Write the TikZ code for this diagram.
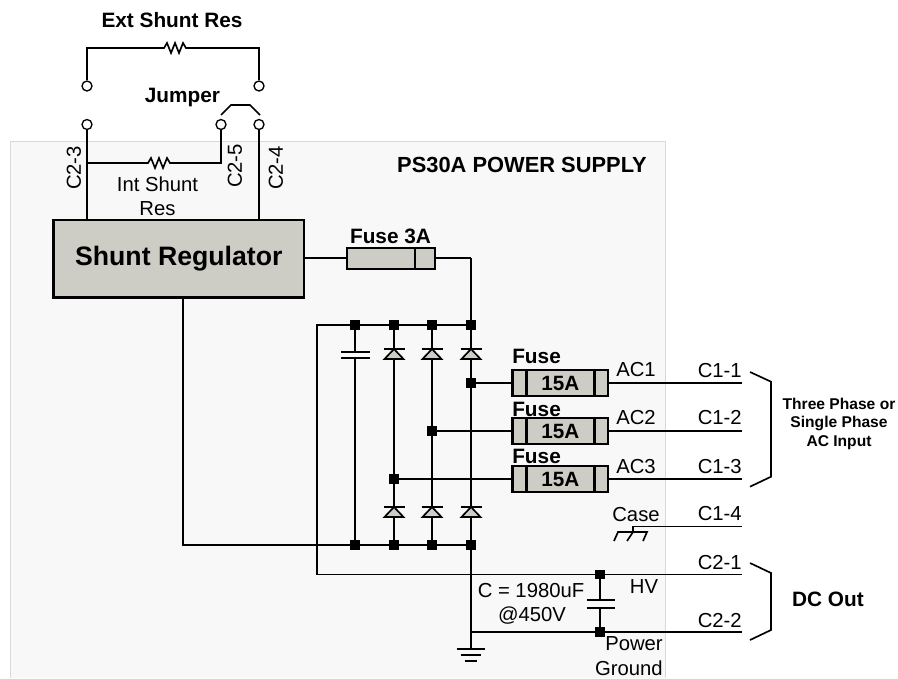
\documentclass[tikz,border=0pt]{standalone}
\usepackage{fontspec}
\setmainfont{Liberation Sans}
\usetikzlibrary{calc}
\definecolor{boxgray}{HTML}{CDCDC5}
\definecolor{panelgray}{HTML}{F8F8F8}
\definecolor{paneledge}{HTML}{D9D9D9}
\tikzset{
  wire/.style={line width=1.25pt},
  lbl/.style={font=\fontsize{15.2}{15.2}\selectfont, inner sep=0pt},
  blbl/.style={font=\fontsize{15.6}{15.6}\selectfont\bfseries, inner sep=0pt},
  smbl/.style={font=\fontsize{11.7}{11.7}\selectfont\bfseries, inner sep=0pt},
  dot/.style={fill=black, draw=none, minimum size=7pt, inner sep=0pt},
  term/.style={circle, draw, line width=1pt, fill=white, minimum size=7.5pt, inner sep=0pt},
}
\def\resistor(#1)(#2){\draw[wire, line join=miter] ($(#1)+(0,0)$) -- ++(3,0) -- ++(3,-5) -- ++(4,10) -- ++(4,-10) -- ++(4,10) -- ++(4,-10) -- ++(3,5) -- (#2);}
\def\diode(#1,#2){\draw[wire, fill=boxgray] (#1-9.5,#2+10) -- (#1+9.5,#2+10) -- (#1,#2) -- cycle;
  \draw[wire] (#1-10.5,#2) -- (#1+10.5,#2);}
\def\fuse(#1,#2)(#3){\node[draw, fill=boxgray, line width=2pt, minimum width=71.5pt, minimum height=19.5pt, inner sep=0pt, font=\fontsize{15.5}{15.5}\selectfont\bfseries] (#3) at (#1,#2) {15A};
  \draw[line width=2pt] (#1-33.5,#2-12) -- (#1-33.5,#2+12);
  \draw[line width=2pt] (#1+34.5,#2-12) -- (#1+34.5,#2+12);}
\begin{document}
\begin{tikzpicture}[x=.75pt, y=-.75pt]
  \useasboundingbox (0,0) rectangle (898,678);
  %%%%% panel %%%%%
  \fill[panelgray] (10,141) rectangle (665.5,678);
  \draw[paneledge] (10,678) -- (10,141) -- (665.5,141) -- (665.5,678);

  %%%%% shunt part %%%%%
  \node[term] (tA) at (87,86) {};
  \node[term] (tB) at (259,86) {};
  \node[term] (tC) at (87,124.5) {};
  \node[term] (tD) at (221,124.5) {};
  \node[term] (tE) at (259,124.5) {};
  \coordinate (extL) at (87,48);
  \coordinate (extR) at (259,48);
  \coordinate (resA) at (161,48);
  \coordinate (resB) at (189,48);
  \coordinate (resC) at (145,163);
  \coordinate (resD) at (173,163);
  \coordinate (intL) at (87,163);
  \coordinate (intR) at (221,163);
  \draw[wire] (tA) -- (extL) -- (resA);
  \resistor(resA)(resB)
  \draw[wire] (resB) -- (extR) -- (tB);
  \draw[wire] (intL) -- (resC);
  \resistor(resC)(resD)
  \draw[wire] (resD) -- (intR) -- (tD);
  \draw[wire] (221,115) -- (231,105) -- (250,105) -- (260,115);

  \node[draw, fill=boxgray, line width=2pt, minimum width=188pt, minimum height=58pt, inner sep=0pt, font=\fontsize{20}{20}\selectfont\bfseries] (reg) at (178.8,258.8) {Shunt Regulator};
  \draw[wire] (tC) -- (tC |- reg.north);
  \draw[wire] (tE) -- (tE |- reg.north);

  \node[blbl] (extlbl) at (172,20) {Ext Shunt Res};
  \node[blbl] (jmp) at (182.5,98) {Jumper};
  \node[lbl, rotate=90] (c23) at (74,168) {C2-3};
  \node[lbl, rotate=90] (c25) at (235,166) {C2-5};
  \node[lbl, rotate=90] (c24) at (276,168) {C2-4};
  \node[lbl] (int1) at (157.5,184) {Int Shunt};
  \node[lbl] (int2) at (157.5,209) {Res};
  \node[blbl, font=\fontsize{16.4}{16.4}\selectfont\bfseries, anchor=east] (ps) at (647,165) {PS30A POWER SUPPLY};

  %%%%% fuse 3A %%%%%
  \node[draw, fill=boxgray, line width=1.5pt, minimum width=66.4pt, minimum height=15.5pt, inner sep=0pt] (f3) at (391,258.3) {};
  \draw[line width=1.5pt] (415,248) -- (415,268.6);
  \node[blbl] (f3lbl) at (390.5,236) {Fuse 3A};
  \coordinate (top) at (471,258.3);
  \draw[wire] (reg.east |- f3) -- (f3);
  \draw[wire] (f3) -- (top);

  %%%%% bridge %%%%%
  \foreach \nm/\px in {a/355,b/394,c/432,d/471}{
    \node[dot] (up\nm) at (\px,325) {};
    \node[dot] (lo\nm) at (\px,545) {};
  }
  \coordinate (busL) at (317,325);
  \coordinate (hvL) at (317,574.5);
  \coordinate (hvR) at (742,574.5);
  \coordinate (pgR) at (742,632);
  \coordinate (gnd) at (471,649);
  \draw[wire] (hvL) -- (busL) -- (upd);
  \draw[wire] (top) -- (gnd);
  \draw[wire] (183,297) -- (183,545) -- (lod);
  \draw[wire] (upb) -- (lob);
  \draw[wire] (upc) -- (loc);
  % capacitor
  \draw[wire] (upa) -- (355,352);
  \draw[wire] (355,358) -- (loa);
  \draw[wire] (341,352) -- (370,352);
  \draw[wire] (341,358) -- (370,358);
  \foreach \px in {394,432,471}{
    \diode(\px,349)
    \diode(\px,507)
  }

  %%%%% AC fuses %%%%%
  \fuse(560.3,383)(fa)
  \fuse(560.3,431)(fb)
  \fuse(560.3,479)(fc)
  \node[dot] (ja) at (471,383) {};
  \node[dot] (jb) at (432,431) {};
  \node[dot] (jc) at (394,479) {};
  \draw[wire] (ja) -- (fa);
  \draw[wire] (jb) -- (fb);
  \draw[wire] (jc) -- (fc);
  \coordinate (ra) at (742,383);
  \coordinate (rb) at (742,431);
  \coordinate (rc) at (742,479);
  \draw[wire] (fa) -- (ra);
  \draw[wire] (fb) -- (rb);
  \draw[wire] (fc) -- (rc);
  \node[blbl, anchor=west] (la) at (512,356) {Fuse};
  \node[blbl, anchor=west] (lb) at (512,409) {Fuse};
  \node[blbl, anchor=west] (lc) at (512,456) {Fuse};
  \node[lbl, anchor=west] (ac1) at (616,370) {AC1};
  \node[lbl, anchor=west] (ac2) at (616,418) {AC2};
  \node[lbl, anchor=west] (ac3) at (616,467) {AC3};
  \node[lbl, anchor=east] (c11) at (742,371) {C1-1};
  \node[lbl, anchor=east] (c12) at (742,418) {C1-2};
  \node[lbl, anchor=east] (c13) at (742,467) {C1-3};

  %%%%% case %%%%%
  \coordinate (cs) at (633,526.5);
  \draw[wire] (742,526.5) -- (cs) -- (633,532);
  \draw[wire] (614,541) -- (618,532) -- (647,532) -- (643,541);
  \draw[wire] (633,532) -- (627,541);
  \node[lbl] (case) at (636,515) {Case};
  \node[lbl, anchor=east] (c14) at (742,514) {C1-4};

  %%%%% DC out %%%%%
  \node[dot] (hvj) at (600,574.5) {};
  \node[dot] (pgj) at (600,632) {};
  \draw[wire] (hvL) -- (hvR);
  \draw[wire] (471,632) -- (pgR);
  \draw[wire] (hvj) -- (600,600);
  \draw[wire] (600,608) -- (pgj);
  \draw[wire] (586.5,600) -- (614.5,600);
  \draw[wire] (586.5,608) -- (614.5,608);
  \draw[wire] (456.5,649) -- (485,649);
  \draw[wire] (460.5,655) -- (481,655);
  \draw[wire] (464.5,661) -- (477,661);
  \node[lbl, anchor=east] (c21) at (742,563) {C2-1};
  \node[lbl, anchor=east] (c22) at (742,621) {C2-2};
  \node[lbl] (hv) at (644,587) {HV};
  \node[lbl] (cap) at (531,590.5) {C = 1980uF};
  \node[lbl] (volt) at (532,616) {@450V};
  \node[lbl, anchor=east] (pw) at (663,644) {Power};
  \node[lbl, anchor=east] (gr) at (663,668) {Ground};

  %%%%% braces %%%%%
  \draw[wire] (750,372) -- (771,381.7) -- (771,476.7) -- (750,486.7);
  \draw[wire] (750,563) -- (771,573) -- (771,630) -- (750,640);
  \node[smbl] (th1) at (839,404) {Three Phase or};
  \node[smbl] (th2) at (839,423) {Single Phase};
  \node[smbl] (th3) at (839,443) {AC Input};
  \node[blbl] (dc) at (828,599) {DC Out};
\end{tikzpicture}
\end{document}
